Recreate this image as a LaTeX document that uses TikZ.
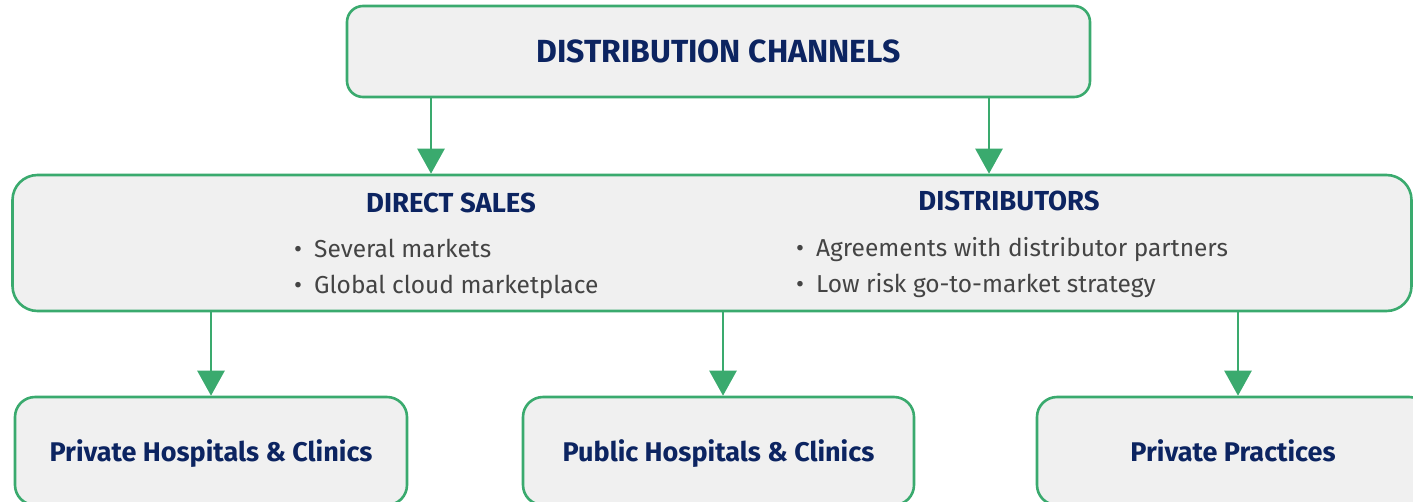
\documentclass[tikz,border=0pt]{standalone}
\usepackage{fontspec}
\setmainfont{Fira Sans}
\usetikzlibrary{arrows.meta}
\definecolor{grn}{HTML}{3AAA6E}
\definecolor{boxfill}{HTML}{F0F0F0}
\definecolor{navy}{HTML}{0C2461}
\definecolor{txtgray}{HTML}{444444}
\tikzset{
  box/.style={draw=grn, line width=2.6pt, fill=boxfill, rectangle},
  arr/.style={draw=grn, line width=2.6pt, -{Triangle[length=25pt,width=27pt]}},
  head/.style={font=\fontsize{27.5}{32}\selectfont\bfseries, text=navy, inner sep=0pt, anchor=base},
  leaf/.style={font=\fontsize{27}{32}\selectfont\bfseries, text=navy, inner sep=0pt, anchor=base},
  big/.style={font=\fontsize{32}{36}\selectfont\bfseries, text=navy, inner sep=0pt, anchor=base},
  item/.style={font=\fontsize{24.5}{29}\selectfont, text=txtgray, inner sep=0pt, anchor=base west},
}
\newcommand{\bul}{\makebox[20pt][l]{\textbullet}}
\begin{document}
\begin{tikzpicture}[x=1pt,y=-1pt]
\useasboundingbox (0,0) rectangle (1413,501);
\node[box, rounded corners=16pt, minimum width=743pt, minimum height=91pt] (top) at (718.5,51.5) {};
\node[big] (title) at (718.5,62) {DISTRIBUTION CHANNELS};
\node[box, rounded corners=25pt, minimum width=1399pt, minimum height=136pt] (mid) at (712,243) {};
\node[head] (ds) at (451,212) {DIRECT SALES};
\node[head] (dist) at (1009,210) {DISTRIBUTORS};
\node[item] (d1) at (294,257) {\bul Several markets};
\node[item] (d2) at (294,293) {\bul Global cloud marketplace};
\node[item] (r1) at (796,256) {\bul Agreements with distributor partners};
\node[item] (r2) at (796,292) {\bul Low risk go-to-market strategy};
\node[box, rounded corners=20pt, minimum width=392pt, minimum height=108pt] (b1) at (211,451) {};
\node[box, rounded corners=20pt, minimum width=391pt, minimum height=108pt] (b2) at (718.5,451) {};
\node[box, rounded corners=20pt, minimum width=392pt, minimum height=108pt] (b3) at (1233,451) {};
\node[leaf] (t1) at (211,461) {Private Hospitals \& Clinics};
\node[leaf] (t2) at (718.5,461) {Public Hospitals \& Clinics};
\node[leaf] (t3) at (1233,461) {Private Practices};
\draw[arr] (top.south -| 431,0) -- (mid.north -| 431,0);
\draw[arr] (top.south -| 989,0) -- (mid.north -| 989,0);
\draw[arr] (mid.south -| b1.north) -- (b1.north);
\draw[arr] (mid.south -| 723,0) -- (b2.north -| 723,0);
\draw[arr] (mid.south -| 1238,0) -- (b3.north -| 1238,0);
\end{tikzpicture}
\end{document}
